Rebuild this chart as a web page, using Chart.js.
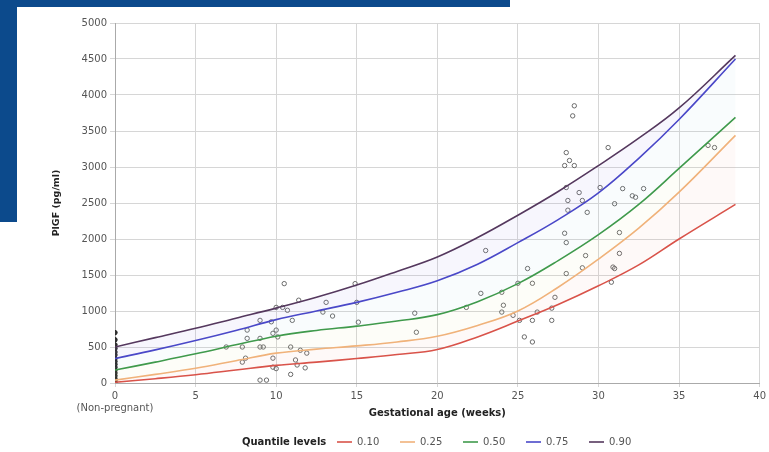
<!DOCTYPE html>
<html>
<head>
<meta charset="utf-8">
<script src="https://cdn.jsdelivr.net/npm/chart.js@4.4.0/dist/chart.umd.min.js"></script>
<style>
  html, body { margin: 0; padding: 0; background: #fff; }
  #wrap { position: relative; width: 769px; height: 452px; overflow: hidden; background: #fff; }
  .band { position: absolute; background: #0c4a8c; }
  canvas { position: absolute; left: 0; top: 0; }
</style>
</head>
<body>
<div id="wrap">
  <div class="band" style="left:0;top:0;width:510px;height:7px"></div>
  <div class="band" style="left:0;top:0;width:17px;height:222px"></div>
  <canvas id="plgfChart" width="769" height="452"></canvas>
</div>
<script>
// quantile curves (weeks vs PlGF pg/ml)
var curveWeeks = [0, 2.5, 5, 7.5, 10, 12.5, 15, 17.5, 20, 22.5, 25, 27.5, 30, 32.5, 35, 38.5];
var q10 = [10, 60, 115, 180, 245, 290, 340, 395, 465, 640, 860, 1090, 1350, 1640, 2000, 2480];
var q25 = [40, 120, 205, 310, 415, 470, 515, 570, 650, 800, 1000, 1330, 1720, 2150, 2650, 3440];
var q50 = [180, 290, 405, 530, 650, 730, 790, 860, 950, 1130, 1380, 1700, 2060, 2480, 2980, 3690];
var q75 = [340, 460, 590, 730, 880, 1000, 1120, 1260, 1420, 1650, 1950, 2270, 2640, 3120, 3660, 4500];
var q90 = [500, 630, 760, 900, 1040, 1190, 1360, 1550, 1750, 2020, 2330, 2660, 3020, 3400, 3820, 4550];

var quantileLabels = ['0.10', '0.25', '0.50', '0.75', '0.90'];
var quantileColors = ['#d9534a', '#f0b27a', '#3f9a4c', '#4a48c8', '#55385e'];
var bandColors = ['rgba(0,0,0,0)', 'rgba(240,150,140,0.06)', 'rgba(220,230,150,0.07)', 'rgba(150,200,220,0.06)', 'rgba(170,160,230,0.09)'];

// observed samples
var sampleWeeks = [0, 0, 0, 0, 0, 0, 0, 0, 0, 0, 0, 0, 0, 0, 0, 0,
  6.9, 7.9, 7.9, 8.1, 8.2, 8.2, 9.0, 9.0, 9.0, 9.2, 9.0, 9.4, 9.7, 9.8, 9.8, 9.8,
  10.0, 10.0, 10.0, 10.1, 10.4, 10.5, 10.7, 10.9, 10.9, 11.0, 11.2, 11.3, 11.4, 11.5, 11.8, 11.9,
  12.9, 13.1, 13.5, 14.9, 15.0, 15.1,
  18.6, 18.7, 21.8, 22.7, 23.0, 24.0, 24.1, 24.0, 24.7, 25.0, 25.1, 25.4, 25.6, 25.9, 25.9, 25.9,
  26.2, 27.1, 27.1, 27.3,
  27.9, 27.9, 28.0, 28.0, 28.0, 28.0, 28.1, 28.1, 28.2, 28.4, 28.5, 28.5, 28.8, 29.0, 29.0, 29.2,
  29.3, 30.1, 30.6, 30.8, 30.9, 31.0, 31.0, 31.3, 31.3, 31.5, 32.1, 32.3, 32.8, 36.8, 37.2];
var samplePlgf = [0, 30, 60, 100, 140, 180, 220, 260, 300, 340, 390, 430, 480, 530, 600, 700,
  500, 500, 290, 345, 735, 620, 870, 620, 500, 500, 40, 40, 850, 690, 345, 220,
  1050, 735, 200, 640, 1050, 1380, 1010, 500, 120, 870, 320, 250, 1150, 455, 210, 415,
  985, 1120, 930, 1380, 1120, 845,
  970, 705, 1050, 1245, 1840, 1260, 1080, 985, 940, 1385, 870, 640, 1590, 1385, 870, 570,
  985, 1040, 870, 1190,
  3020, 2080, 3200, 2715, 1950, 1520, 2535, 2400, 3090, 3710, 3850, 3020, 2645, 2535, 1600, 1770,
  2370, 2715, 3270, 1400, 1610, 2490, 1590, 2090, 1800, 2700, 2600, 2580, 2700, 3300, 3270];

var xTickValues = [0, 5, 10, 15, 20, 25, 30, 35, 40];

function toPoints(xs, ys){
    var pts = [];
    for (var k = 0; k < xs.length; k++) {
        pts.push({x: xs[k], y: ys[k]});
    }
    return pts;
}

var curves = [q10, q25, q50, q75, q90];
var datasets = [];
for (var j = 0; j < curves.length; j++) {
    datasets.push({
        label: quantileLabels[j],
        data: toPoints(curveWeeks, curves[j]),
        showLine: true,
        borderColor: quantileColors[j],
        backgroundColor: bandColors[j],
        borderWidth: 1.6,
        pointRadius: 0,
        tension: 0.4,
        fill: j === 0 ? false : '-1',
        order: 1
    });
}
// non-pregnant samples (x = 0) are drawn darker, like in the source figure
datasets.push({
    label: 'samples',
    data: toPoints(sampleWeeks, samplePlgf),
    showLine: false,
    pointStyle: 'circle',
    pointRadius: 2.2,
    borderWidth: 1,
    borderColor: function(c){ return c.raw && c.raw.x === 0 ? '#222' : '#6a6a6a'; },
    backgroundColor: function(c){ return c.raw && c.raw.x === 0 ? '#333' : 'rgba(255,255,255,0)'; },
    order: 2
});

// legend row at the bottom: "Quantile levels  — 0.10  — 0.25 ..."
var quantileLegend = {
    id: 'quantileLegend',
    afterDraw: function(chart){
        var ctx = chart.ctx;
        var y = 442;
        ctx.save();
        ctx.textBaseline = 'middle';
        ctx.textAlign = 'left';
        ctx.font = 'bold 10px "DejaVu Sans"';
        ctx.fillStyle = '#222';
        ctx.fillText('Quantile levels', 242, y);
        ctx.font = '10px "DejaVu Sans"';
        var x = 337;
        for (var k = 0; k < quantileLabels.length; k++) {
            ctx.strokeStyle = quantileColors[k];
            ctx.lineWidth = 1.6;
            ctx.beginPath();
            ctx.moveTo(x, y);
            ctx.lineTo(x + 15, y);
            ctx.stroke();
            ctx.fillStyle = '#555';
            ctx.fillText(quantileLabels[k], x + 20, y);
            x += 63;
        }
        ctx.restore();
    }
};

var ctxChart = document.getElementById('plgfChart').getContext('2d');

var plgfChart = new Chart(ctxChart, {
    type: 'scatter',
    data: { datasets: datasets },
    options: {
        responsive: false,
        animation: false,
        layout: { padding: { left: 51, right: 6, top: 23, bottom: 29 } },
        plugins: {
            legend: { display: false },
            tooltip: { enabled: false }
        },
        scales: {
            x: {
                type: 'linear',
                min: 0,
                max: 40,
                afterBuildTicks: function(scale){
                    scale.ticks = xTickValues.map(function(v){ return {value: v}; });
                },
                afterFit: function(scale){ scale.height = 40; },
                ticks: {
                    padding: 3,
                    color: '#555',
                    font: { family: '"DejaVu Sans"', size: 10 },
                    maxRotation: 0,
                    callback: function(v){ return v === 0 ? ['0', '(Non-pregnant)'] : String(v); }
                },
                grid: { color: '#d6d6d6', tickLength: 4 },
                border: { color: '#aaa' },
                title: {
                    display: true,
                    text: 'Gestational age (weeks)',
                    color: '#222',
                    font: { family: '"DejaVu Sans"', size: 10, weight: 'bold' },
                    padding: { top: 0, bottom: 4 }
                }
            },
            y: {
                min: 0,
                max: 5000,
                afterFit: function(scale){ scale.width = 64; },
                ticks: {
                    stepSize: 500,
                    padding: 3,
                    color: '#555',
                    font: { family: '"DejaVu Sans"', size: 10 },
                    callback: function(v){ return String(v); }
                },
                grid: { color: '#d6d6d6', tickLength: 5 },
                border: { color: '#aaa' },
                title: {
                    display: true,
                    text: 'PlGF (pg/ml)',
                    color: '#222',
                    font: { family: '"DejaVu Sans"', size: 9.5, weight: 'bold' },
                    padding: { top: 0, bottom: 0 }
                }
            }
        }
    },
    plugins: [quantileLegend]
});
</script>
</body>
</html>
